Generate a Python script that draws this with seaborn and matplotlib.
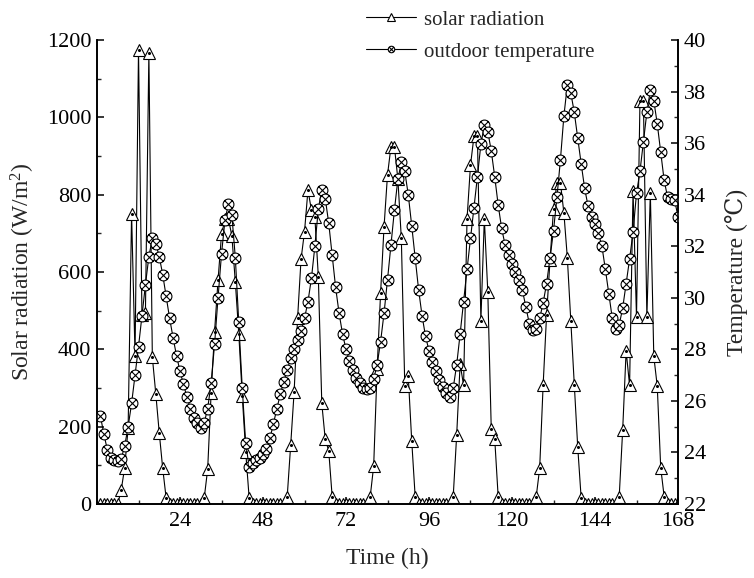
import numpy as np
import matplotlib
matplotlib.use("Agg")
import matplotlib.pyplot as plt
from matplotlib.path import Path
from matplotlib.ticker import MultipleLocator
import seaborn as sns

# hourly data, t = 1..168
hours = list(range(1, 169))

solar = [
    0, 0, 0, 0, 0, 0,
    36, 94, 196, 751, 384, 1175, 489, 494, 1166, 380, 285, 184, 92, 15,
    0, 0, 0, 0, 0, 0, 0, 0, 0, 0,
    15, 90, 287, 446, 579, 697, 736, 738, 693, 574, 440, 280, 135, 15,
    0, 0, 0, 0, 0, 0, 0, 0, 0, 0,
    19, 152, 290, 480, 633, 704, 812, 760, 741, 588, 260, 167, 138, 19,
    0, 0, 0, 0, 0, 0, 0, 0, 0, 0,
    19, 98, 350, 545, 717, 851, 924, 924, 840, 687, 305, 331, 164, 19,
    0, 0, 0, 0, 0, 0, 0, 0, 0, 0,
    19, 178, 362, 307, 738, 876, 951, 951, 474, 738, 549, 195, 169, 19,
    0, 0, 0, 0, 0, 0, 0, 0, 0, 0,
    19, 92, 307, 489, 631, 762, 831, 831, 753, 637, 474, 307, 148, 15,
    0, 0, 0, 0, 0, 0, 0, 0, 0, 0,
    19, 191, 396, 307, 810, 483, 1041, 1041, 483, 805, 382, 305, 94, 19,
    0, 0, 0, 0,
]

temperature = [
    25.4, 24.7, 24.1, 23.8, 23.7, 23.65, 23.75, 24.25, 25.0, 25.9, 27.0, 28.1,
    29.3, 30.5, 31.6, 32.3, 32.1, 31.6, 30.9, 30.05, 29.2, 28.45, 27.75, 27.15,
    26.65, 26.15, 25.7, 25.35, 25.15, 24.95, 25.15, 25.7, 26.7, 28.2, 30.0, 31.7,
    33.0, 33.65, 33.2, 31.55, 29.05, 26.5, 24.35, 23.45, 23.6, 23.7, 23.8, 23.95,
    24.15, 24.55, 25.1, 25.7, 26.25, 26.75, 27.2, 27.65, 28.0, 28.35, 28.7, 29.2,
    29.85, 30.75, 32.0, 33.45, 34.2, 33.85, 32.9, 31.65, 30.4, 29.4, 28.6, 28.0,
    27.55, 27.2, 26.9, 26.7, 26.5, 26.45, 26.5, 26.85, 27.4, 28.3, 29.4, 30.7,
    32.05, 33.4, 34.6, 35.25, 34.9, 34.0, 32.8, 31.55, 30.3, 29.3, 28.5, 27.95,
    27.5, 27.15, 26.8, 26.55, 26.3, 26.15, 26.5, 27.4, 28.6, 29.85, 31.1, 32.3,
    33.5, 34.7, 35.95, 36.7, 36.45, 35.7, 34.7, 33.6, 32.7, 32.05, 31.65, 31.3,
    31.0, 30.7, 30.3, 29.65, 29.0, 28.75, 28.8, 29.2, 29.8, 30.55, 31.55, 32.6,
    33.9, 35.35, 37.05, 38.25, 37.95, 37.2, 36.2, 35.2, 34.25, 33.55, 33.15, 32.85,
    32.5, 32.0, 31.1, 30.15, 29.2, 28.8, 28.95, 29.6, 30.55, 31.5, 32.55, 34.05,
    34.9, 36.05, 37.2, 38.05, 37.65, 36.75, 35.65, 34.55, 33.9, 33.85, 33.8, 33.15,
]

x_ticks = [24, 48, 72, 96, 120, 144, 168]

sns.set_style("ticks")
plt.rcParams['font.family'] = ['Liberation Serif', 'DejaVu Serif']
plt.rcParams['mathtext.fontset'] = 'custom'
plt.rcParams['mathtext.rm'] = 'Liberation Serif'
plt.rcParams['mathtext.it'] = 'Liberation Serif:italic'

# circle with an x inside (Origin style marker)
d = 0.7071
circle_x = Path.make_compound_path(
    Path.unit_circle(),
    Path([(-d, -d), (d, d)], [Path.MOVETO, Path.LINETO]),
    Path([(-d, d), (d, -d)], [Path.MOVETO, Path.LINETO]),
)

fig = plt.figure(figsize=(7.54, 5.78), dpi=100)
ax = fig.add_axes([97 / 754, 74 / 578, 581 / 754, 464 / 578])
ax2 = ax.twinx()

sns.lineplot(x=hours, y=solar, ax=ax, color='black', linewidth=0.8,
             marker='^', markersize=9, markerfacecolor='white',
             markeredgecolor='black', markeredgewidth=0.8, zorder=2)
ax.plot(hours, solar, linestyle='none', marker='o', markersize=1.2,
        color='black', zorder=3)
line_solar = ax.lines[0]

sns.lineplot(x=hours, y=temperature, ax=ax2, color='black', linewidth=0.8,
             marker=circle_x, markersize=7.8, markerfacecolor='white',
             markeredgecolor='black', markeredgewidth=0.8, zorder=2)
line_temp = ax2.lines[0]

ax.set_xlim(0, 168)
ax.set_ylim(0, 1200)
ax2.set_ylim(22, 40)

ax.set_xticks(x_ticks)
ax.xaxis.set_minor_locator(MultipleLocator(12))
ax.yaxis.set_major_locator(MultipleLocator(200))
ax.yaxis.set_minor_locator(MultipleLocator(100))
ax2.yaxis.set_major_locator(MultipleLocator(2))
ax2.yaxis.set_minor_locator(MultipleLocator(1))

for a in (ax, ax2):
    a.tick_params(which='major', direction='in', length=5, width=1.1,
                  labelsize=16, colors='black')
    a.tick_params(which='minor', direction='in', length=3, width=1.0)
    for side in ('left', 'right', 'bottom'):
        a.spines[side].set_linewidth(1.2)
        a.spines[side].set_color('black')
    a.spines['top'].set_visible(False)
ax.tick_params(axis='x', pad=6)
ax.tick_params(axis='y', pad=4)
ax2.tick_params(axis='y', pad=4)

ax.set_xlabel('Time (h)', fontsize=17, labelpad=12)
ax.set_ylabel('Solar radiation (W/m$^2$)', fontsize=17, labelpad=7)
ax2.set_ylabel('Temperature (\u2103)', fontsize=17, labelpad=14)

fig.legend([line_solar, line_temp], ['solar radiation', 'outdoor temperature'],
           loc='upper left', bbox_to_anchor=(0.475, 0.997), frameon=False,
           fontsize=15, handlelength=2.4, handletextpad=0.35,
           labelspacing=0.6, markerscale=0.6, borderaxespad=0)

fig.savefig('out.png', dpi=100)
